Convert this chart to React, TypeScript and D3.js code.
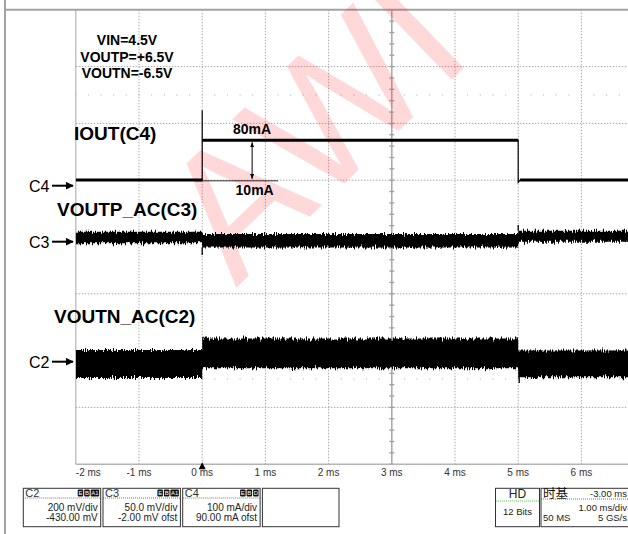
import React from "react";
import * as d3 from "d3";

const W = 628;
const H = 534;

// time axis, ms (timebase 1 ms/div, delay -3 ms)
const timeTicks = [-2, -1, 0, 1, 2, 3, 4, 5, 6];

// C4 load current, mA
const c4Time = [-2, 0, 0, 0, 5, 5, 5.03, 8];
const c4Current = [10, 10, 133, 80, 80, 6, 10, 10];

// noise envelopes: before / during / after the load step
const segBounds = [-2, 0, 5, 8];
const c3High = [8.8, 6.8, 9.6]; // mV
const c3Low = [-1.4, -5.0, 0.0];
const c2High = [41, 82, 39]; // mV
const c2Low = [-57, -23, -55];
const c3SpikeTime = [0, 5];
const c3SpikeValue = [-11.7, 14.6];
const c2SpikeTime = [0, 5];
const c2SpikeValue = [88, -75];

const condLines = ["VIN=4.5V", "VOUTP=+6.5V", "VOUTN=-6.5V"];

const chBoxes = [
  { name: "C2", badges: ["E", "B", "A1"], l1: "200 mV/div", l2: "-430.00 mV" },
  { name: "C3", badges: ["E", "B", "A1"], l1: "50.0 mV/div", l2: "-2.00 mV ofst" },
  { name: "C4", badges: ["E", "B", "D"], l1: "100 mA/div", l2: "90.00 mA ofst" },
];

const x = d3.scaleLinear().domain([-2, 8]).range([75.8, 707.8]);
const yDiv = d3.scaleLinear().domain([0, 8]).range([9.8, 464.2]);
const DIV = yDiv(1) - yDiv(0);
const yC4 = d3.scaleLinear().domain([0, 100]).range([185.7, 185.7 - DIV]);
const yC3 = d3.scaleLinear().domain([0, 50]).range([241.7, 241.7 - DIV]);
const yC2 = d3.scaleLinear().domain([0, 200]).range([361.7, 361.7 - DIV]);

function bandPath(hi: number[], lo: number[], y: d3.ScaleLinear<number, number>) {
  const pts: { t: number; i: number }[] = [];
  hi.forEach((_, i) => {
    pts.push({ t: segBounds[i], i });
    pts.push({ t: segBounds[i + 1], i });
  });
  return d3
    .area<{ t: number; i: number }>()
    .x((d) => x(d.t))
    .y0((d) => y(lo[d.i]))
    .y1((d) => y(hi[d.i]))(pts) as string;
}

export default function App() {
  const font = "'Liberation Sans', Arial, sans-serif";
  const gridX = d3.range(0, 11).map((i) => x(-2 + i));
  const gridY = d3.range(0, 9).map((i) => yDiv(i));
  const minorX = d3.range(0, 50).map((i) => x(-2 + i * 0.2));
  const minorY = d3.range(0, 41).map((i) => yDiv(i * 0.2));

  const c4pts = c4Time.map((t, i) => [x(t), yC4(c4Current[i])] as [number, number]);
  const c4Line = d3.line()(c4pts) as string;
  const c4Levels = c4pts
    .slice(1)
    .map((p, i) => [c4pts[i], p])
    .filter(([a, b]) => a[1] === b[1] && a[0] !== b[0]);

  const segIndex = (t: number) => (t < segBounds[1] ? 0 : t < segBounds[2] ? 1 : 2);

  return (
    <svg
      width={W}
      height={H}
      style={{ position: "absolute", left: 0, top: 0, background: "#fff" }}
      fontFamily={font}
    >
      <defs>
        <filter id="jag" x="-0.02" y="-1" width="1.04" height="3" colorInterpolationFilters="sRGB">
          <feTurbulence type="fractalNoise" baseFrequency="1.1 0.06" numOctaves={2} seed={7} result="n" />
          <feColorMatrix
            in="n"
            type="matrix"
            values="1 0 0 0 0  0 0 0 0 0.5  0 0 0 0 0  0 0 0 0 1"
            result="m"
          />
          <feDisplacementMap in="SourceGraphic" in2="m" scale={9} xChannelSelector="G" yChannelSelector="R" />
        </filter>
        <marker id="chArrow" viewBox="0 0 10 10" refX="9" refY="5" markerWidth="4" markerHeight="4" orient="auto">
          <path d="M0,0L10,5L0,10z" fill="#000" />
        </marker>
        <marker id="dimArrow" viewBox="0 0 10 10" refX="10" refY="5" markerWidth="5" markerHeight="5" orient="auto-start-reverse">
          <path d="M0,1L10,5L0,9z" fill="#000" />
        </marker>
        <clipPath id="plotClip">
          <rect x={x(-2)} y={yDiv(0)} width={W - x(-2)} height={yDiv(8) - yDiv(0)} />
        </clipPath>
        <clipPath id="pageClip">
          <rect x={0} y={0} width={W} height={H} />
        </clipPath>
      </defs>

      <rect width={W} height={H} fill="#fff" />

      {/* graticule */}
      <g stroke="#a9a9a9" strokeWidth={1} strokeDasharray="1.5 1.5">
        {gridX.slice(1).map((gx, i) => (
          <line key={"gx" + i} x1={gx} x2={gx} y1={yDiv(0)} y2={yDiv(8)} />
        ))}
        {gridY.slice(1, 8).map((gy, i) => (
          <line key={"gy" + i} x1={x(-2)} x2={W} y1={gy} y2={gy} />
        ))}
      </g>
      <g fill="#c4c4c4">
        {[1.5, 6.5].map((d) =>
          minorX.map((mx, i) => <circle key={d + "-" + i} cx={mx} cy={yDiv(d)} r={0.7} />)
        )}
      </g>
      <g stroke="#a0a0a0" strokeWidth={1.3}>
        <line x1={x(3)} x2={x(3)} y1={yDiv(0)} y2={yDiv(8)} />
        <line x1={x(-2)} x2={W} y1={yDiv(4)} y2={yDiv(4)} />
        {minorY.map((my, i) => (
          <line key={"ty" + i} x1={x(3) - 2.5} x2={x(3) + 2.5} y1={my} y2={my} />
        ))}
        {minorX.map((mx, i) => (
          <line key={"tx" + i} x1={mx} x2={mx} y1={yDiv(4) - 2.5} y2={yDiv(4) + 2.5} />
        ))}
      </g>
      <line x1={x(-2)} x2={x(-2)} y1={yDiv(0)} y2={yDiv(8)} stroke="#b4b4b4" strokeWidth={1.2} />
      <line x1={x(-2)} x2={W} y1={yDiv(8)} y2={yDiv(8)} stroke="#b4b4b4" strokeWidth={1.5} />
      <line x1={5} x2={W} y1={yDiv(0)} y2={yDiv(0)} stroke="#a3a3a3" strokeWidth={2} />
      <line x1={5} x2={5} y1={0} y2={H} stroke="#a3a3a3" strokeWidth={2} />

      {/* watermark */}
      <g clipPath="url(#pageClip)">
        <text
          x={236}
          y={288}
          transform="rotate(-44 236 288)"
          fontSize={180}
          fill="#ff1e1e"
          fillOpacity={0.17}
          fontFamily={font}
        >
          AWI
        </text>
      </g>

      {/* traces */}
      <g clipPath="url(#plotClip)">
        <g filter="url(#jag)" fill="#000">
          <path d={bandPath(c3High, c3Low, yC3)} />
          <path d={bandPath(c2High, c2Low, yC2)} />
        </g>
        <g stroke="#000" strokeWidth={1.3}>
          {c3SpikeTime.map((t, i) => {
            const s = segIndex(t + 0.001);
            const edge = c3SpikeValue[i] < 0 ? c3Low[s] : c3High[s];
            return <line key={"s3" + i} x1={x(t)} x2={x(t)} y1={yC3(edge)} y2={yC3(c3SpikeValue[i])} />;
          })}
          {c2SpikeTime.map((t, i) => {
            const s = segIndex(t + 0.001);
            const edge = c2SpikeValue[i] < 0 ? c2Low[s] : c2High[s];
            return <line key={"s2" + i} x1={x(t) + 1} x2={x(t) + 1} y1={yC2(edge)} y2={yC2(c2SpikeValue[i])} />;
          })}
        </g>
        <path d={c4Line} fill="none" stroke="#000" strokeWidth={1.2} />
        {c4Levels.map(([a, b], i) => (
          <line key={"lv" + i} x1={a[0]} x2={b[0]} y1={a[1]} y2={b[1]} stroke="#000" strokeWidth={3} />
        ))}
      </g>

      {/* annotations */}
      <g fontWeight="bold" fontSize={14} textAnchor="middle" fill="#000">
        {condLines.map((s, i) => (
          <text key={s} x={127} y={45 + i * 16.7}>
            {s}
          </text>
        ))}
      </g>
      <g fontWeight="bold" fontSize={19} fill="#000">
        <text x={74} y={140}>IOUT(C4)</text>
        <text x={57} y={216}>VOUTP_AC(C3)</text>
        <text x={54} y={323}>VOUTN_AC(C2)</text>
      </g>
      <line x1={x(-0.11)} x2={x(1.2)} y1={yC4(10) + 0.8} y2={yC4(10) + 0.8} stroke="#000" strokeWidth={0.8} />
      <line
        x1={x(0.79)}
        x2={x(0.79)}
        y1={yC4(80) + 2}
        y2={yC4(10) - 1}
        stroke="#000"
        strokeWidth={1}
        markerStart="url(#dimArrow)"
        markerEnd="url(#dimArrow)"
      />
      <g fontWeight="bold" fontSize={14} textAnchor="middle">
        <text x={x(0.79)} y={yC4(80) - 6.5}>80mA</text>
        <text x={x(0.83)} y={yC4(10) + 15}>10mA</text>
      </g>
      <g fontSize={16}>
        {[
          ["C4", yC4(0)],
          ["C3", yC3(0)],
          ["C2", yC2(0)],
        ].map(([n, yy]) => (
          <g key={n as string}>
            <text x={29} y={(yy as number) + 6}>{n}</text>
            <line x1={52} x2={73} y1={yy as number} y2={yy as number} stroke="#000" strokeWidth={2} markerEnd="url(#chArrow)" />
          </g>
        ))}
      </g>

      {/* time axis */}
      <g fontSize={10} fill="#333">
        {timeTicks.map((t, i) => (
          <text key={t} x={x(t)} y={476} textAnchor={i === 0 ? "start" : "middle"}>
            {t + " ms"}
          </text>
        ))}
      </g>
      <path d={`M${x(0)},${yDiv(8) - 2}l-3.5,7h7z`} fill="#000" />

      {/* channel info boxes */}
      {chBoxes.map((b, i) => {
        const bx = 23.3 + i * 79.7;
        const bw = 77.4;
        return (
          <g key={b.name}>
            <rect x={bx} y={488.3} width={bw} height={38.4} fill="#fff" stroke="#333" strokeWidth={1} />
            <text x={bx + 2} y={497} fontSize={11} fill="#333">{b.name}</text>
            {b.badges.map((bd, j) => {
              const widths = b.badges.map((s) => (s.length > 1 ? 8.5 : 5.5));
              const total = d3.sum(widths) + (widths.length - 1) * 1;
              const start = bx + bw - 1.5 - total + d3.sum(widths.slice(0, j)) + j * 1;
              return (
                <g key={bd + j}>
                  <rect x={start} y={489.5} width={widths[j]} height={7} rx={1} fill="#111" />
                  <text x={start + widths[j] / 2} y={495} fontSize={6} fill="#fff" textAnchor="middle">{bd}</text>
                </g>
              );
            })}
            <line x1={bx} x2={bx + bw} y1={498} y2={498} stroke="#555" strokeWidth={0.8} strokeDasharray="1 1" />
            <text x={bx + bw - 3} y={510.5} fontSize={10} fill="#222" textAnchor="end">{b.l1}</text>
            <text x={bx + bw - 3} y={520.5} fontSize={10} fill="#222" textAnchor="end">{b.l2}</text>
          </g>
        );
      })}
      <rect x={262.4} y={488.3} width={76.6} height={38.4} fill="#fff" stroke="#333" strokeWidth={1} />

      <rect x={495.5} y={488.3} width={44} height={38.4} fill="#fff" stroke="#333" strokeWidth={1} />
      <text x={517.5} y={498} fontSize={12} fill="#222" textAnchor="middle">HD</text>
      <line x1={496} x2={539} y1={501} y2={501} stroke="#3c3" strokeWidth={0.8} strokeDasharray="1 1" />
      <text x={517.5} y={515} fontSize={9.5} fill="#222" textAnchor="middle">12 Bits</text>

      <rect x={541} y={488.3} width={95} height={38.4} fill="#fff" stroke="#333" strokeWidth={1} />
      <text x={543} y={498} fontSize={12.5} fill="#111" fontFamily="'Noto Sans CJK SC', sans-serif">时基</text>
      <line x1={541} x2={W} y1={499} y2={499} stroke="#555" strokeWidth={0.8} strokeDasharray="1 1" />
      <g fontSize={9.5} fill="#222" textAnchor="end">
        <text x={627} y={497}>-3.00 ms</text>
        <text x={627} y={510.5}>1.00 ms/div</text>
        <text x={627} y={520.5}>5 GS/s</text>
      </g>
      <text x={543} y={520.5} fontSize={9.5} fill="#222">50 MS</text>
    </svg>
  );
}
